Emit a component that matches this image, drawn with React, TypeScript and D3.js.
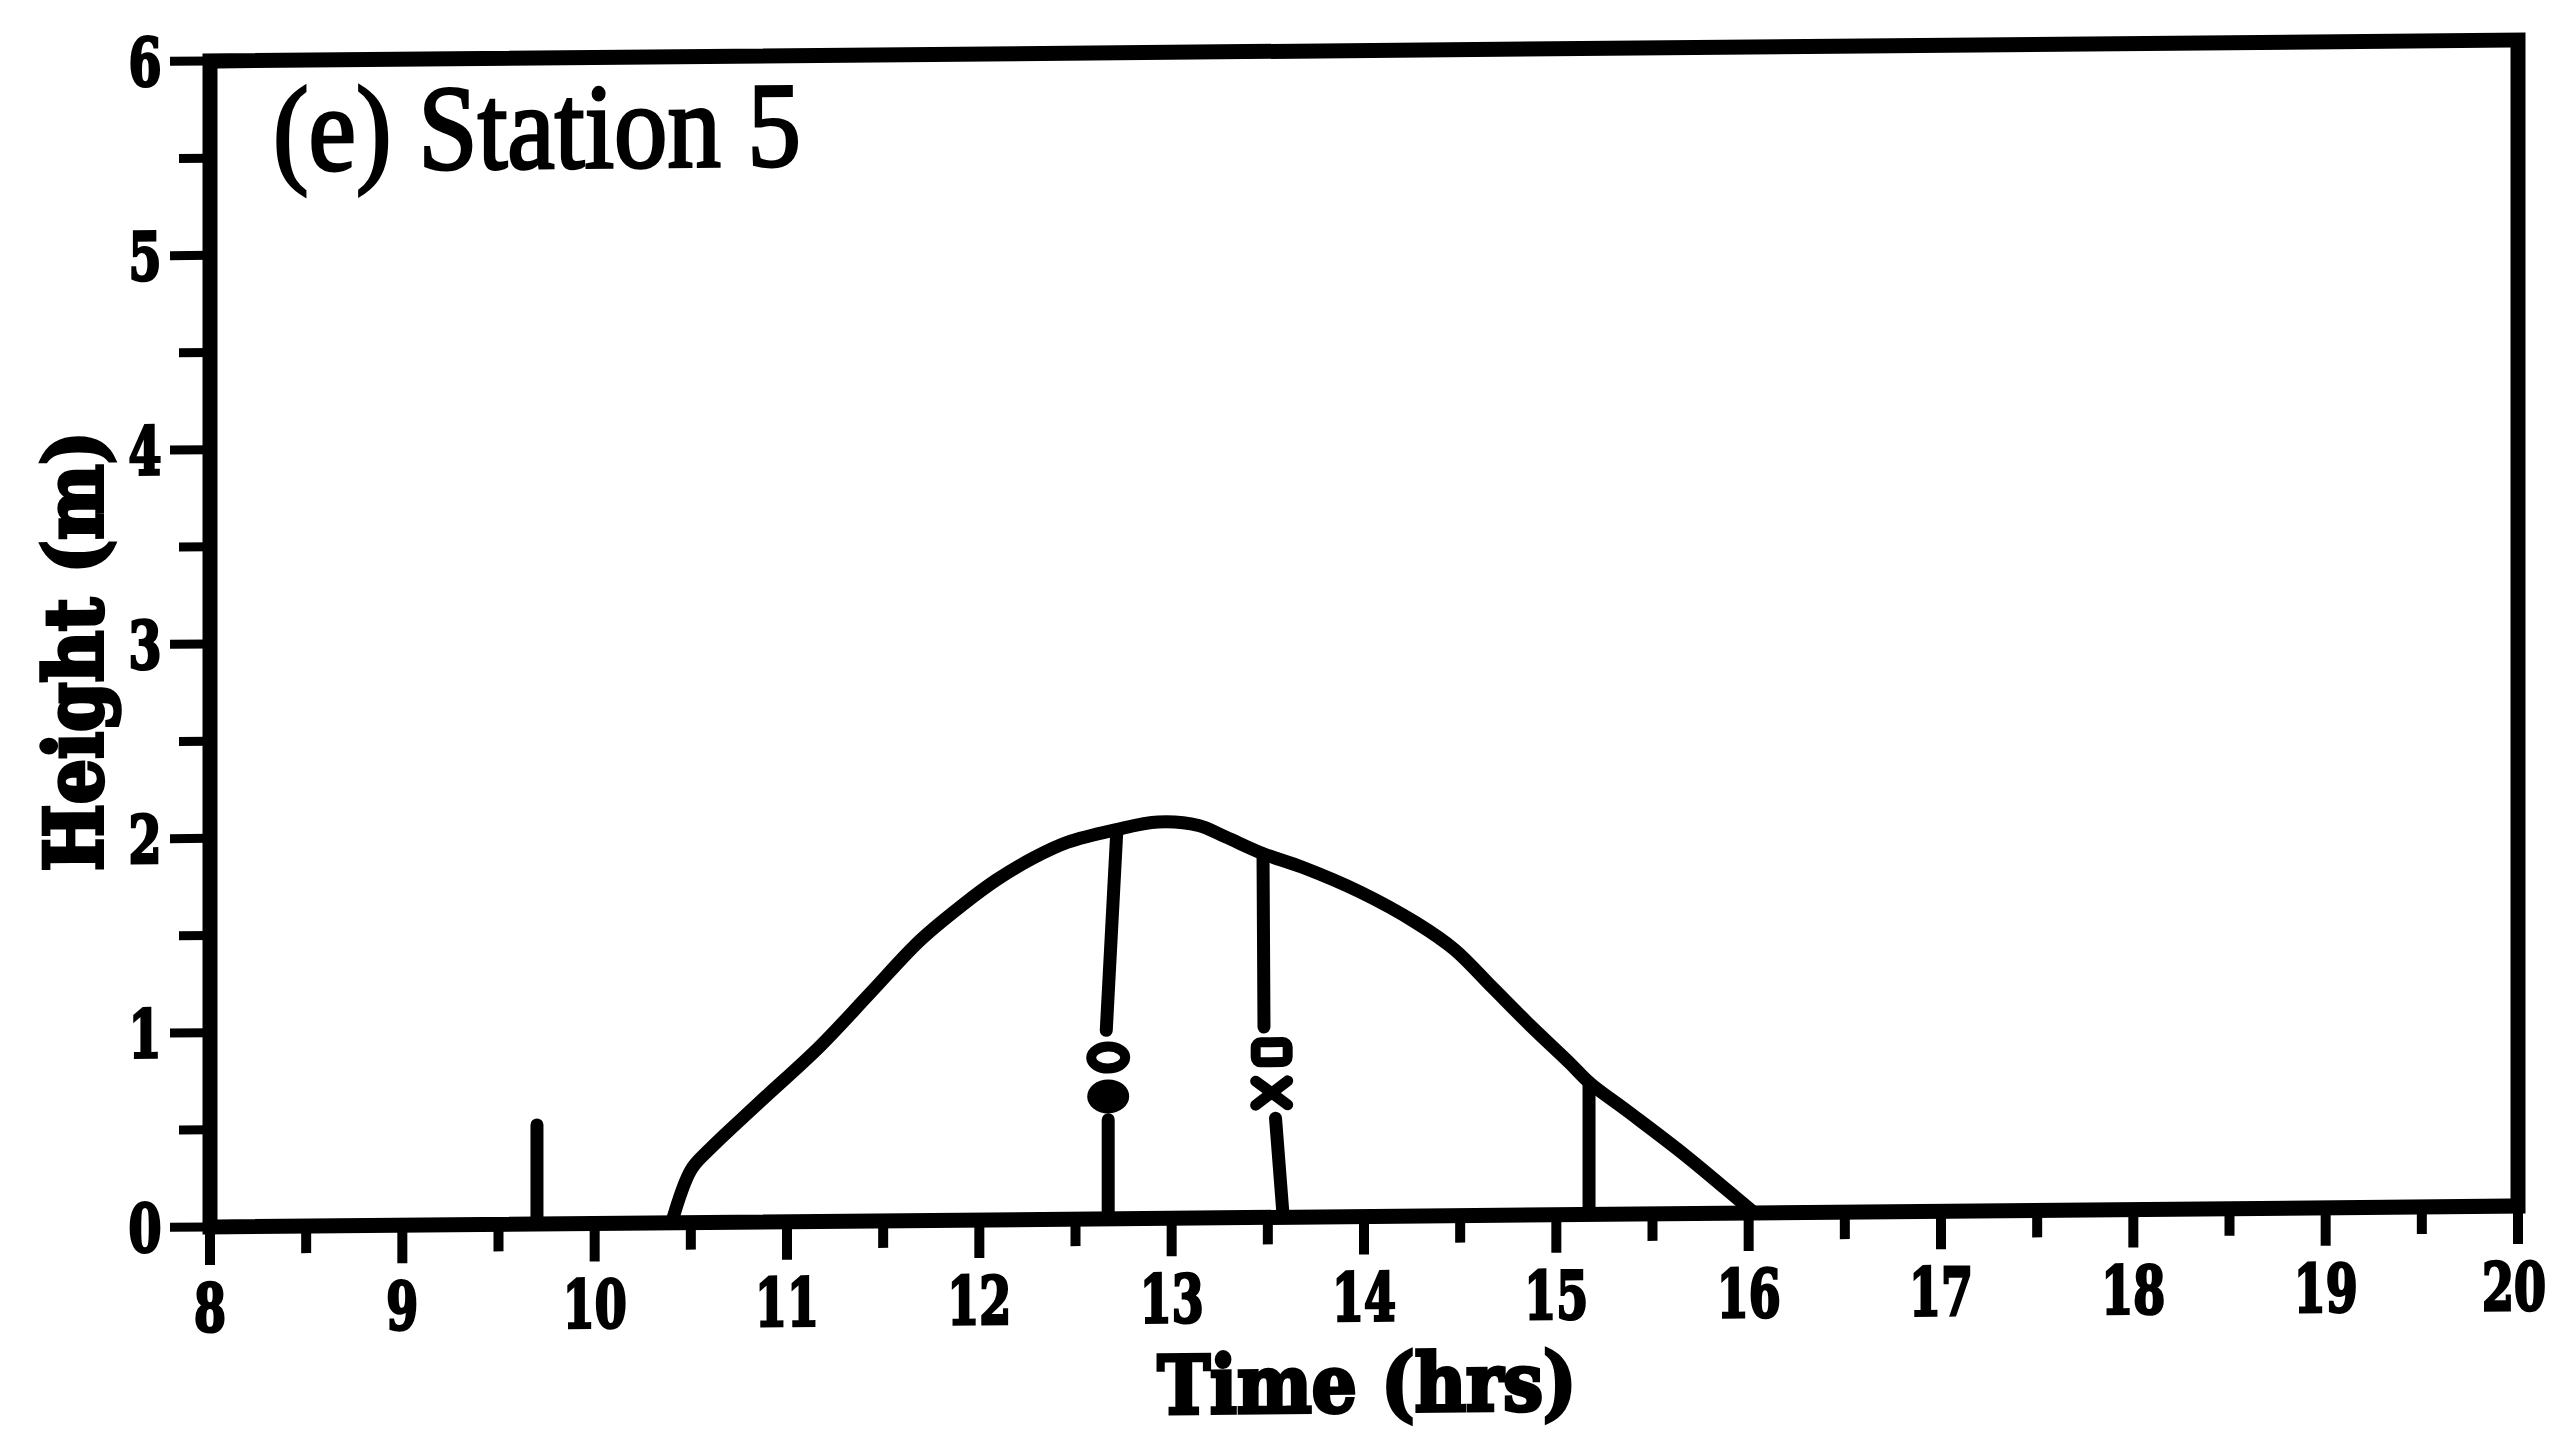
import React from 'react';
import * as d3 from 'd3';

// Station 5 water-height record
const timeHrs = [10.40, 10.50, 10.59, 10.85, 11.17, 11.43, 11.69, 11.91, 12.09, 12.28, 12.46, 12.70, 12.93, 13.14, 13.28, 13.48, 13.68, 13.98, 14.27, 14.47, 14.67, 14.87, 15.07, 15.17, 15.37, 15.67, 15.97, 16.03];
const heightM = [0, 0.27, 0.37, 0.61, 0.90, 1.17, 1.44, 1.62, 1.75, 1.86, 1.94, 2.00, 2.04, 2.02, 1.96, 1.87, 1.80, 1.67, 1.51, 1.37, 1.17, 0.97, 0.78, 0.68, 0.53, 0.30, 0.05, 0];

// Vertical event markers: [time at bottom, height at bottom, time at top, height at top]
const eventSegments: [number, number, number, number][] = [
  [9.70, 0, 9.70, 0.51],
  [12.67, 0, 12.67, 0.51],
  [12.66, 0.97, 12.715, 2.0],
  [13.58, 0, 13.54, 0.51],
  [13.48, 0.98, 13.475, 1.87],
  [15.17, 0, 15.17, 0.68],
];

// Observation symbols placed in the gaps of the event lines
const symbolTimes = [12.67, 12.67, 13.52, 13.52];
const symbolHeights = [0.83, 0.63, 0.85, 0.64];
const symbolKinds = ['ring', 'dot', 'square', 'cross'];

const xTickLabels = [8, 9, 10, 11, 12, 13, 14, 15, 16, 17, 18, 19, 20];
const yTickLabels = [0, 1, 2, 3, 4, 5, 6];

const W = 2574;
const H = 1432;
const TILT = -0.52;

const x = d3.scaleLinear().domain([8, 20]).range([210, 2518]);
const y = d3.scaleLinear().domain([0, 6]).range([1227, 61]);

const labelFont = "'DejaVu Serif', serif";

export default function App() {
  const line = d3
    .line<number>()
    .x((_, i) => x(timeHrs[i]))
    .y((d) => y(d))
    .curve(d3.curveCatmullRom.alpha(0.5));

  const xMinor = d3.range(8.5, 20, 1);
  const yMinor = d3.range(0.5, 6, 1);

  return (
    <svg
      width={W}
      height={H}
      style={{ position: 'absolute', left: 0, top: 0, background: '#fff' }}
    >
      <rect x={0} y={0} width={W} height={H} fill="#fff" />
      <g transform={`translate(${x(8)},0) skewY(${TILT}) translate(${-x(8)},0)`}>
        {/* frame */}
        <rect
          x={x(8)}
          y={y(6)}
          width={x(20) - x(8)}
          height={y(0) - y(6)}
          fill="none"
          stroke="#000"
          strokeWidth={15}
        />

        {/* y ticks */}
        {yTickLabels.map((v) => (
          <line key={'yt' + v} x1={x(8)} x2={x(8) - 40} y1={y(v)} y2={y(v)} stroke="#000" strokeWidth={9} />
        ))}
        {yMinor.map((v) => (
          <line key={'ym' + v} x1={x(8)} x2={x(8) - 31} y1={y(v)} y2={y(v)} stroke="#000" strokeWidth={9} />
        ))}
        {yTickLabels.map((v) => (
          <text
            key={'yl' + v}
            x={145}
            y={y(v) + 24}
            textAnchor="middle"
            fontFamily={labelFont}
            fontWeight="bold"
            fontSize={66}
            textLength={33}
            lengthAdjust="spacingAndGlyphs"
            stroke="#000"
            strokeWidth={3}
          >
            {v}
          </text>
        ))}

        {/* x ticks */}
        {xTickLabels.map((t) => (
          <line key={'xt' + t} x1={x(t)} x2={x(t)} y1={y(0)} y2={y(0) + 38} stroke="#000" strokeWidth={10} />
        ))}
        {xMinor.map((t) => (
          <line key={'xm' + t} x1={x(t)} x2={x(t)} y1={y(0)} y2={y(0) + 27} stroke="#000" strokeWidth={10} />
        ))}
        {xTickLabels.map((t) => (
          <text
            key={'xl' + t}
            x={x(t) - (t === 20 ? 4 : 0)}
            y={y(0) + 104}
            textAnchor="middle"
            fontFamily={labelFont}
            fontWeight="bold"
            fontSize={66}
            textLength={32 * String(t).length}
            lengthAdjust="spacingAndGlyphs"
            stroke="#000"
            strokeWidth={3}
          >
            {t}
          </text>
        ))}

        {/* axis titles */}
        <text
          x={1367}
          y={1422}
          textAnchor="middle"
          fontFamily={labelFont}
          fontWeight="bold"
          fontSize={80}
          textLength={419}
          lengthAdjust="spacingAndGlyphs"
          stroke="#000"
          strokeWidth={4}
        >
          Time (hrs)
        </text>
        <text
          transform={`translate(102,650) rotate(-90)`}
          textAnchor="middle"
          fontFamily={labelFont}
          fontWeight="bold"
          fontSize={80}
          textLength={440}
          lengthAdjust="spacingAndGlyphs"
          stroke="#000"
          strokeWidth={4}
        >
          Height (m)
        </text>

        {/* panel title */}
        <text
          x={273}
          y={171}
          fontFamily="'Liberation Serif', 'Times New Roman', serif"
          fontSize={121}
          textLength={528}
          lengthAdjust="spacingAndGlyphs"
          stroke="#000"
          strokeWidth={3}
        >
          (e) Station 5
        </text>

        {/* water-height curve */}
        <path
          d={line(heightM) || ''}
          fill="none"
          stroke="#000"
          strokeWidth={13}
          strokeLinejoin="round"
          strokeLinecap="round"
        />

        {/* event lines */}
        {eventSegments.map(([t0, v0, t1, v1], i) => (
          <line
            key={'ev' + i}
            x1={x(t0)}
            y1={y(v0)}
            x2={x(t1)}
            y2={y(v1)}
            stroke="#000"
            strokeWidth={13}
            strokeLinecap="round"
          />
        ))}

        {/* observation symbols */}
        {symbolKinds.map((kind, i) => {
          const cx = x(symbolTimes[i]);
          const cy = y(symbolHeights[i]);
          if (kind === 'ring') {
            return <ellipse key={'s' + i} cx={cx} cy={cy} rx={17} ry={11} fill="none" stroke="#000" strokeWidth={10} />;
          }
          if (kind === 'dot') {
            return <ellipse key={'s' + i} cx={cx} cy={cy} rx={21} ry={17} fill="#000" />;
          }
          if (kind === 'square') {
            return (
              <rect key={'s' + i} x={cx - 16} y={cy - 10} width={32} height={20} rx={5} fill="none" stroke="#000" strokeWidth={10} />
            );
          }
          return (
            <g key={'s' + i} stroke="#000" strokeWidth={11} strokeLinecap="round">
              <line x1={cx - 16} y1={cy - 12} x2={cx + 16} y2={cy + 12} />
              <line x1={cx - 16} y1={cy + 12} x2={cx + 16} y2={cy - 12} />
            </g>
          );
        })}
      </g>
    </svg>
  );
}
